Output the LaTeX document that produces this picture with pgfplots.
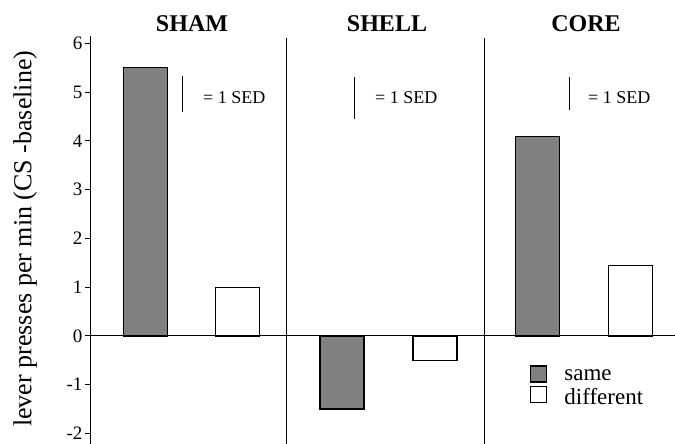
\documentclass[border=0pt]{standalone}
\usepackage{fontspec}
\setmainfont{Liberation Serif}
\usepackage{pgfplots}
\pgfplotsset{compat=1.18}
\begin{document}
\begin{tikzpicture}
\begin{axis}[
  scale only axis,
  width=585pt, height=408pt,
  xmin=90, xmax=675, ymin=-2.213, ymax=6.15,
  axis x line=middle, axis y line=left,
  axis line style={-, line width=0.9pt},
  xtick=\empty,
  ytick={-2,-1,0,1,2,3,4,5,6},
  tick align=outside, major tick length=5pt,
  tick style={line width=0.9pt, black},
  yticklabel style={font=\fontsize{19}{22}\selectfont, xshift=1pt},
  /pgf/number format/assume math mode=true,
  clip=false,
  ybar, bar width=44, bar shift=0pt,
  legend style={draw=none, fill=none, at={(axis cs:530,-0.60)}, anchor=north west,
    font=\fontsize{23}{28}\selectfont, row sep=3pt, inner sep=0pt,
    nodes={inner sep=1pt}},
  legend cell align=left,
  legend image code/.code={\draw[#1, line width=1.2pt] (0pt,-6pt) rectangle (16pt,10pt); \path (0pt,0pt) (32pt,0pt);},
]
\addplot[draw=black, line width=1.2pt, fill=black!50] coordinates {(145.5,5.5) (342,-1.5) (537.5,4.08)};
\addlegendentry{same}
\addplot[draw=black, line width=1.2pt, fill=white] coordinates {(237.5,1.0) (435,-0.5) (630.5,1.45)};
\addlegendentry{different}
% dividers
\addplot[sharp plot, black, line width=0.9pt, forget plot] coordinates {(286,-2.213) (286,6.1)};
\addplot[sharp plot, black, line width=0.9pt, forget plot] coordinates {(484,-2.213) (484,6.1)};
% SED bars
\addplot[sharp plot, black, line width=1pt, forget plot] coordinates {(183,5.33) (183,4.59)};
\addplot[sharp plot, black, line width=1pt, forget plot] coordinates {(354,5.31) (354,4.45)};
\addplot[sharp plot, black, line width=1pt, forget plot] coordinates {(569,5.31) (569,4.63)};
\node[anchor=west, inner sep=0pt, font=\fontsize{18}{21}\selectfont] at (axis cs:203,4.88) {= 1 SED};
\node[anchor=west, inner sep=0pt, font=\fontsize{18}{21}\selectfont] at (axis cs:375,4.88) {= 1 SED};
\node[anchor=west, inner sep=0pt, font=\fontsize{18}{21}\selectfont] at (axis cs:588,4.88) {= 1 SED};
% titles
\node[inner sep=0pt, font=\fontsize{24}{28}\selectfont\bfseries] at (axis cs:192,6.39) {SHAM};
\node[inner sep=0pt, font=\fontsize{24}{28}\selectfont\bfseries] at (axis cs:387,6.39) {SHELL};
\node[inner sep=0pt, font=\fontsize{24}{28}\selectfont\bfseries] at (axis cs:586,6.39) {CORE};
% y label
\node[rotate=90, inner sep=0pt, font=\fontsize{26}{30}\selectfont] at (axis cs:25,1.99) {lever presses per min (CS -baseline)};
\coordinate (BL) at (axis cs:0,-2.213);
\coordinate (TR) at (axis cs:675,6.885);
\end{axis}
\pgfresetboundingbox
\path (BL) rectangle (TR);
\end{tikzpicture}
\end{document}
